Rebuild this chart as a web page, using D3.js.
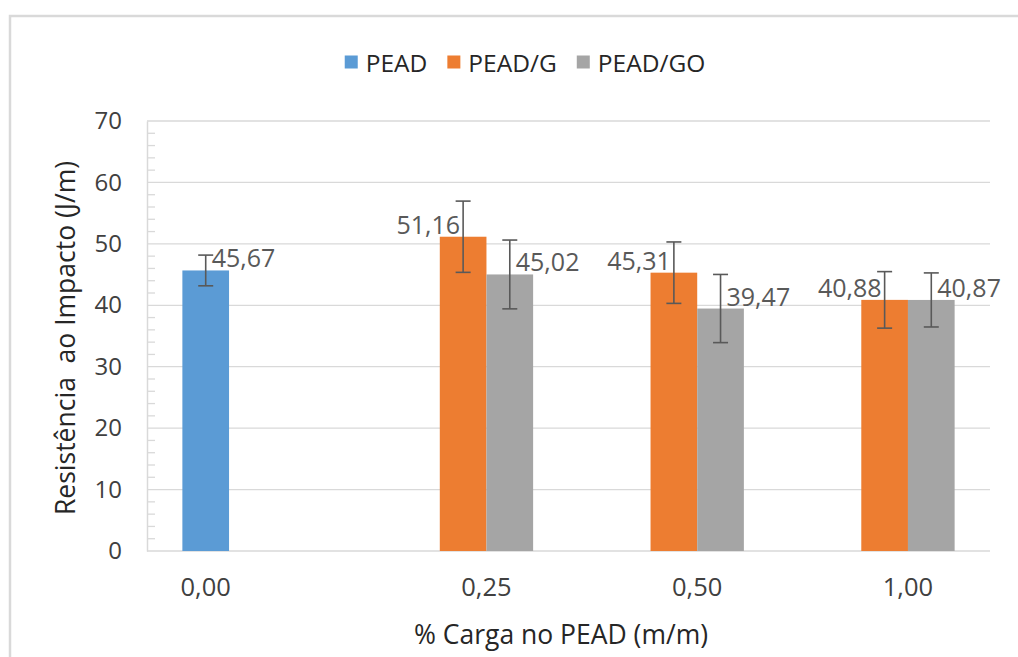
<!DOCTYPE html>
<html>
<head>
<meta charset="utf-8">
<script src="https://cdn.jsdelivr.net/npm/d3@7"></script>
<style>
  html, body { margin: 0; padding: 0; background: #ffffff; }
  svg { display: block; }
  text { font-family: "Open Sans", "Noto Sans", sans-serif; }
</style>
</head>
<body>
<svg id="chart" width="1018" height="657"></svg>
<script>
// ---- data ----
const categories = ["0,00", "0,25", "0,50", "1,00"];
const seriesNames = ["PEAD", "PEAD/G", "PEAD/GO"];
const peadValues   = [45.67, null, null, null];
const peadGValues  = [null, 51.16, 45.31, 40.88];
const peadGOValues = [null, 45.02, 39.47, 40.87];
const peadErrors   = [2.5, null, null, null];
const peadGErrors  = [null, 5.8, 5.0, 4.6];
const peadGOErrors = [null, 5.6, 5.55, 4.4];
const yTicks = [0, 10, 20, 30, 40, 50, 60, 70];
const seriesColors = ["#5b9bd5", "#ed7d31", "#a5a5a5"];
const yTitle = "Resistência  ao Impacto (J/m)";
const xTitle = "% Carga no PEAD (m/m)";

const seriesValues = [peadValues, peadGValues, peadGOValues];
const seriesErrors = [peadErrors, peadGErrors, peadGOErrors];

// ---- layout ----
const W = 1018, H = 657;
const plot = { left: 147, right: 990, top: 121, bottom: 551 };
const svg = d3.select("#chart");
const fmt = d3.formatLocale({ decimal: ",", thousands: ".", grouping: [3], currency: ["", ""] }).format(".2f");

// outer frame
svg.append("rect").attr("x", 10).attr("y", 16).attr("width", W + 40).attr("height", H + 40)
  .attr("fill", "#ffffff").attr("stroke", "#d9d9d9").attr("stroke-width", 2.5);

// scales
const y = d3.scaleLinear().domain([0, 70]).range([plot.bottom, plot.top]);
const x0 = d3.scaleBand().domain(categories).range([plot.left, plot.right])
  .paddingInner(0.3357).paddingOuter(0.3357 / 2);
const x1 = d3.scaleBand().domain(seriesNames).range([0, x0.bandwidth()]).padding(0);

// gridlines
svg.append("g").selectAll("line").data(yTicks.filter(t => t > 0)).join("line")
  .attr("x1", plot.left).attr("x2", plot.right)
  .attr("y1", d => y(d)).attr("y2", d => y(d))
  .attr("stroke", "#d9d9d9").attr("stroke-width", 1.3);

// minor ticks
const minor = d3.range(0, 70, 2).filter(v => v % 10 !== 0);
svg.append("g").selectAll("line").data(minor).join("line")
  .attr("x1", plot.left).attr("x2", plot.left + 8)
  .attr("y1", d => y(d)).attr("y2", d => y(d))
  .attr("stroke", "#d9d9d9").attr("stroke-width", 1.3);

// y axis
const yAxis = d3.axisLeft(y).tickValues(yTicks).tickSize(0).tickPadding(25).tickFormat(d3.format("d"));
const gy = svg.append("g").attr("transform", `translate(${plot.left},0)`).call(yAxis);
gy.select(".domain").attr("stroke", "#d9d9d9").attr("stroke-width", 1.5);
gy.selectAll("text").attr("font-size", 24).attr("fill", "#404040")
  .attr("font-family", "'Open Sans', sans-serif");

// x baseline
svg.append("line").attr("x1", plot.left).attr("x2", plot.right)
  .attr("y1", plot.bottom).attr("y2", plot.bottom)
  .attr("stroke", "#d9d9d9").attr("stroke-width", 1.5);

// bars
const barData = [];
seriesNames.forEach((s, si) => {
  categories.forEach((c, ci) => {
    const v = seriesValues[si][ci];
    if (v !== null) barData.push({ s, si, c, v, e: seriesErrors[si][ci] });
  });
});

svg.append("g").selectAll("rect").data(barData).join("rect")
  .attr("x", d => x0(d.c) + x1(d.s))
  .attr("width", x1.bandwidth())
  .attr("y", d => y(d.v))
  .attr("height", d => y(0) - y(d.v))
  .attr("fill", d => seriesColors[d.si]);

// error bars
const eg = svg.append("g").attr("stroke", "#595959").attr("stroke-width", 1.6);
barData.forEach(d => {
  const cx = x0(d.c) + x1(d.s) + x1.bandwidth() / 2;
  const yt = y(d.v + d.e), yb = y(d.v - d.e);
  eg.append("line").attr("x1", cx).attr("x2", cx).attr("y1", yt).attr("y2", yb);
  eg.append("line").attr("x1", cx - 7.5).attr("x2", cx + 7.5).attr("y1", yt).attr("y2", yt);
  eg.append("line").attr("x1", cx - 7.5).attr("x2", cx + 7.5).attr("y1", yb).attr("y2", yb);
});

// data labels
svg.append("g").selectAll("text").data(barData).join("text")
  .attr("x", d => {
    const cx = x0(d.c) + x1(d.s) + x1.bandwidth() / 2;
    return d.si === 1 ? cx - 3 : cx + 6;
  })
  .attr("y", d => y(d.v) - 13)
  .attr("dominant-baseline", "central")
  .attr("text-anchor", d => d.si === 1 ? "end" : "start")
  .attr("font-size", 25).attr("fill", "#595959")
  .text(d => fmt(d.v));

// category labels centered on the present bars
svg.append("g").selectAll("text").data(categories).join("text")
  .attr("x", (c, ci) => {
    const present = seriesNames.filter((s, si) => seriesValues[si][ci] !== null);
    return d3.mean(present, s => x0(c) + x1(s) + x1.bandwidth() / 2);
  })
  .attr("y", 586)
  .attr("dominant-baseline", "central")
  .attr("text-anchor", "middle")
  .attr("font-size", 25.5).attr("fill", "#404040")
  .text(c => c);

// axis titles
svg.append("text").attr("transform", "translate(65,338) rotate(-90)")
  .attr("text-anchor", "middle").attr("dominant-baseline", "central")
  .attr("font-size", 26.5).attr("fill", "#262626")
  .style("white-space", "pre").attr("xml:space", "preserve")
  .text(yTitle);

svg.append("text").attr("x", 561).attr("y", 634)
  .attr("text-anchor", "middle").attr("dominant-baseline", "central")
  .attr("font-size", 26.5).attr("fill", "#262626")
  .text(xTitle);

// legend
const lg = svg.append("g");
let cursor = 0;
seriesNames.forEach((s, i) => {
  const g = lg.append("g");
  g.append("rect").attr("x", 0).attr("y", -6.5).attr("width", 13).attr("height", 13).attr("fill", seriesColors[i]);
  const t = g.append("text").attr("x", 21).attr("y", 0).attr("dominant-baseline", "central")
    .attr("font-size", 24.5).attr("fill", "#262626").text(s);
  const w = 21 + t.node().getComputedTextLength();
  g.attr("transform", `translate(${cursor},62)`);
  cursor += w + 20;
});
const totalW = cursor - 20;
lg.attr("transform", `translate(${525 - totalW / 2},0)`);
</script>
</body>
</html>
